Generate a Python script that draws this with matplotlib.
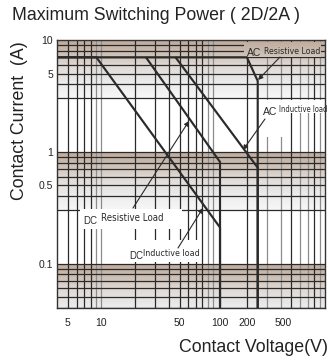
import numpy as np
import matplotlib
matplotlib.use("Agg")
import matplotlib.pyplot as plt
import matplotlib.transforms as mtransforms
from matplotlib.patches import Rectangle

# ---------------- data ----------------
dc_inductive_v = [4, 9, 115, 115]
dc_inductive_a = [7, 7, 0.21, 0.04]
dc_resistive_v = [25, 115, 115]
dc_resistive_a = [7, 0.81, 0.04]
ac_inductive_v = [46, 250, 250]
ac_inductive_a = [7, 0.72, 0.04]
ac_resistive_v = [4, 200, 250, 250]
ac_resistive_a = [7, 7, 4.3, 0.04]

y_ticks = [10, 5, 1, 0.5, 0.1]
y_tick_labels = ["10", "5", "1", "0.5", "0.1"]
x_ticks = [5, 10, 50, 100, 200, 500]
x_tick_labels = ["5", "10", "50", "100", "200", "500"]

title = "Maximum Switching Power ( 2D/2A )"
ylabel = "Contact Current  (A)"
xlabel = "Contact Voltage(V)"

# ---------------- figure ----------------
W, H, DPI = 329, 362, 100
fig = plt.figure(figsize=(W / DPI, H / DPI), dpi=DPI)
fig.patch.set_facecolor("white")
# pixel coordinates (origin top-left) of the reference
PX = mtransforms.Affine2D().scale(1, -1).translate(0, H).scale(1 / DPI) + fig.dpi_scale_trans

ax = fig.add_axes([57 / W, 1 - 308 / H, (325 - 57) / W, (308 - 40) / H])
ax.set_xscale("log")
ax.set_yscale("log")
ax.set_xlim(4, 1000)
ax.set_ylim(0.04, 10)
ax.set_facecolor("white")

MAIN = ["Liberation Sans", "DejaVu Sans"]
INK = "#2a2a2a"

# ---------------- shaded bands ----------------
stops = np.array([0.0, 0.2, 0.45, 0.7, 1.0])
cols = np.array([[190, 170, 155], [202, 187, 175], [223, 218, 214],
                 [233, 233, 233], [247, 247, 247]]) / 255.0
span = np.log10(1 / 0.3)


def shade(zorder, clip=None):
    n = 40
    for d in [10, 1, 0.1]:
        for i in range(n):
            f = (i + 0.5) / n
            c = [np.interp(f, stops, cols[:, k]) for k in range(3)]
            y0 = d * 10 ** (-span * i / n)
            y1 = d * 10 ** (-span * (i + 1) / n)
            p = ax.axhspan(y1, y0, color=c, lw=0, zorder=zorder)
            if clip is not None:
                p.set_clip_path(clip)


shade(0)

# ---------------- grid ----------------
gray_v = [9, 10, 90, 100, 300, 400, 600, 700, 900]
for dec in [1, 10, 100]:
    for m in range(2, 11):
        v = m * dec
        if 4 < v < 1000:
            ax.axvline(v, color="#8c8c8c" if v in gray_v else INK, lw=0.9, zorder=1)
for d in [10, 1, 0.1]:
    for m in [1, 0.9, 0.8, 0.7, 0.6, 0.5, 0.4, 0.3]:
        v = d * m
        if 0.04 < v < 10:
            ax.axhline(v, color=INK, lw=0.9, zorder=1)

# ---------------- label boxes hiding the grid ----------------
for (x0, y0, x1, y1) in [(259, 100, 325, 113), (259, 100, 288, 137),
                         (80, 209, 182, 229), (127, 240, 200, 262)]:
    r = Rectangle((x0, y0), x1 - x0, y1 - y0, transform=PX, facecolor="white",
                  edgecolor="none", zorder=2)
    ax.add_patch(r)
acbox = Rectangle((244, 42), 77, 15, transform=PX, facecolor="none",
                  edgecolor="none", zorder=2)
ax.add_patch(acbox)
shade(2, clip=acbox)

# ---------------- curves ----------------
for xv, yv in [(dc_inductive_v, dc_inductive_a), (dc_resistive_v, dc_resistive_a),
               (ac_inductive_v, ac_inductive_a), (ac_resistive_v, ac_resistive_a)]:
    ax.plot(xv, yv, color=INK, lw=1.55, zorder=3, solid_capstyle="butt",
            solid_joinstyle="miter")

# ---------------- arrows & labels ----------------
arrows = [((280, 57), (258, 80)), ((265, 119), (243, 150)),
          ((133, 208), (189, 121)), ((178, 248), (203, 208))]
for tail, head in arrows:
    ax.annotate("", xy=head, xycoords=PX, xytext=tail, textcoords=PX,
                arrowprops=dict(arrowstyle="-|>", color=INK, lw=0.8,
                                mutation_scale=7, shrinkA=0, shrinkB=0),
                zorder=4, annotation_clip=False)

lab = [("AC", 247, 53, 7.5, False), ("Resistive Load", 264, 51, 6.3, True),
       ("AC", 263, 112, 7.5, False), ("Inductive load", 279, 110, 5.5, True),
       ("DC", 83, 221, 7.0, False), ("Resistive Load", 101, 218, 6.9, True),
       ("DC", 129, 256, 7.0, False), ("Inductive load", 143, 253, 6.4, True)]
for s, x, y, fs, narrow in lab:
    if narrow:
        ax.text(x, y, s, transform=PX, ha="left", va="center", fontsize=fs,
                family="DejaVu Sans", fontstretch="condensed", color=INK,
                zorder=5, clip_on=False)
    else:
        ax.text(x, y, s, transform=PX, ha="left", va="center", fontsize=fs,
                family=MAIN, color=INK, zorder=5, clip_on=False)

# ---------------- axes decoration ----------------
for sp in ax.spines.values():
    sp.set_color("#333333")
    sp.set_linewidth(1.0)
    sp.set_zorder(6)

ax.set_yticks(y_ticks)
ax.set_yticklabels(y_tick_labels)
ax.set_xticks(x_ticks)
ax.set_xticklabels(x_tick_labels)
ax.minorticks_off()
ax.tick_params(axis="both", length=0, labelsize=7.5, colors="#222222")
ax.tick_params(axis="y", pad=3)
ax.tick_params(axis="x", pad=7)
for t in ax.get_xticklabels() + ax.get_yticklabels():
    t.set_family(MAIN)
# small label offsets as in the reference
offs = {"100": 7, "500": -8}
for t in ax.get_xticklabels():
    dx = offs.get(t.get_text(), 0)
    if dx:
        t.set_transform(t.get_transform() +
                        mtransforms.ScaledTranslation(dx / DPI, 0, fig.dpi_scale_trans))

fig.text(12, 16, title, transform=PX, ha="left", va="center", fontsize=12.8,
         family=MAIN, color="#222222")
fig.text(20, 121, ylabel, transform=PX, ha="center", va="center", rotation=90,
         fontsize=12.8, family=MAIN, color="#222222")
fig.text(328, 348, xlabel, transform=PX, ha="right", va="center", fontsize=12.8,
         family=MAIN, color="#222222")

fig.savefig("out.png", dpi=DPI, facecolor="white")
